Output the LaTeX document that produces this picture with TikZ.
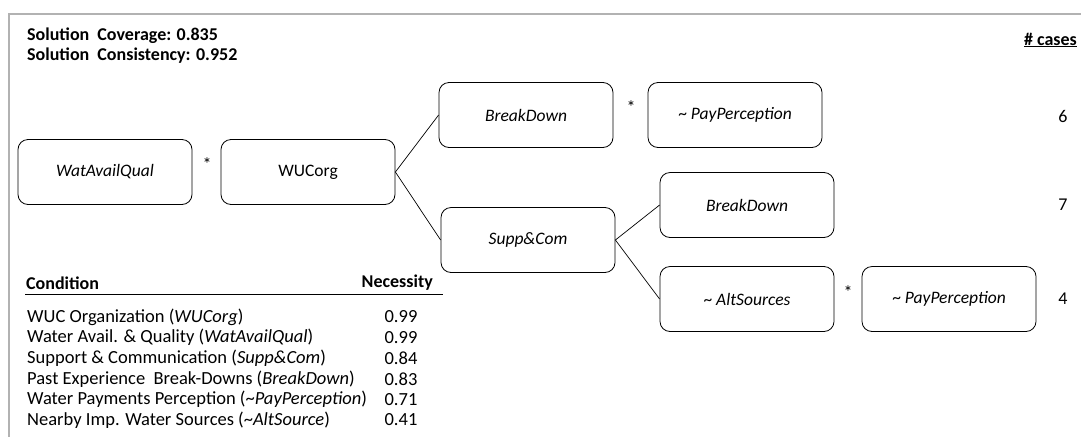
\documentclass[tikz,border=0pt]{standalone}
\usepackage{fontspec}
\setmainfont{Carlito}
\begin{document}
\begin{tikzpicture}[x=1pt,y=-1pt,
  box/.style={draw,rounded corners=10pt,minimum width=174pt,minimum height=65pt,inner sep=0pt,font=\fontsize{17.5}{20}\selectfont,line width=0.8pt},
  lbl/.style={font=\fontsize{18}{20}\selectfont,inner sep=0pt},
  tbl/.style={font=\fontsize{18.5}{20}\selectfont,inner sep=0pt},
  hdr/.style={font=\fontsize{18}{20}\selectfont\bfseries,inner sep=0pt},
  conn/.style={line width=0.7pt}]
\useasboundingbox (0,0) rectangle (1081,437);
\draw[line width=1.6pt,color=black!30] (1081,14) -- (9,14) -- (9,437);
% header
\node[hdr,anchor=west] (cov) at (27,36) {Solution\hspace{0.45em}Coverage: 0.835};
\node[hdr,anchor=west] (cons) at (27,56) {Solution\hspace{0.45em}Consistency: 0.952};
\node[hdr,anchor=east] (cases) at (1077,40) {\underline{\# cases}};
% boxes
\node[box] (wat) at (105,172) {\itshape WatAvailQual};
\node[lbl] (s1) at (207,164) {*};
\node[box] (wuc) at (308,172) {WUCorg};
\node[box] (bd1) at (526,115) {\itshape BreakDown};
\node[lbl] (s2) at (631,107) {*};
\node[box] (pp1) at (735,115) {\textasciitilde\ \itshape PayPerception};
\node[lbl] (n6) at (1063,116) {6};
\node[box] (sc) at (528,240) {\itshape Supp\&Com};
\node[box] (bd2) at (747,205) {\itshape BreakDown};
\node[lbl] (n7) at (1063,205) {7};
\node[box] (alt) at (747,299) {\textasciitilde\ \itshape AltSources};
\node[lbl] (s3) at (848,292) {*};
\node[box] (pp2) at (949,299) {\textasciitilde\ \itshape PayPerception};
\node[lbl] (n4) at (1063,299) {4};
% connectors
\draw[conn] (wuc.east) -- (bd1.west);
\draw[conn] (wuc.east) -- (sc.west);
\draw[conn] (sc.east) -- (bd2.west);
\draw[conn] (sc.east) -- (alt.west);
% table
\node[hdr,anchor=west] (th1) at (26,283) {Condition};
\node[hdr,anchor=east] (th2) at (433,283) {Necessity};
\draw[line width=0.8pt] (25,294) -- (443,294);
\node[tbl,anchor=west] (r1) at (27,317) {WUC Organization (\textit{WUCorg})};
\node[tbl] (v1) at (401,317) {0.99};
\node[tbl,anchor=west] (r2) at (27,337.6) {Water Avail. \& Quality (\textit{WatAvailQual})};
\node[tbl] (v2) at (401,337.6) {0.99};
\node[tbl,anchor=west] (r3) at (27,358.2) {Support \& Communication (\textit{Supp\&Com})};
\node[tbl] (v3) at (401,358.2) {0.84};
\node[tbl,anchor=west] (r4) at (27,378.8) {Past Experience\hspace{0.45em}Break-Downs (\textit{BreakDown})};
\node[tbl] (v4) at (401,378.8) {0.83};
\node[tbl,anchor=west] (r5) at (27,399.4) {Water Payments Perception (\textasciitilde\textit{PayPerception})};
\node[tbl] (v5) at (401,399.4) {0.71};
\node[tbl,anchor=west] (r6) at (27,420) {Nearby Imp. Water Sources (\textasciitilde\textit{AltSource})};
\node[tbl] (v6) at (401,420) {0.41};
\end{tikzpicture}
\end{document}
